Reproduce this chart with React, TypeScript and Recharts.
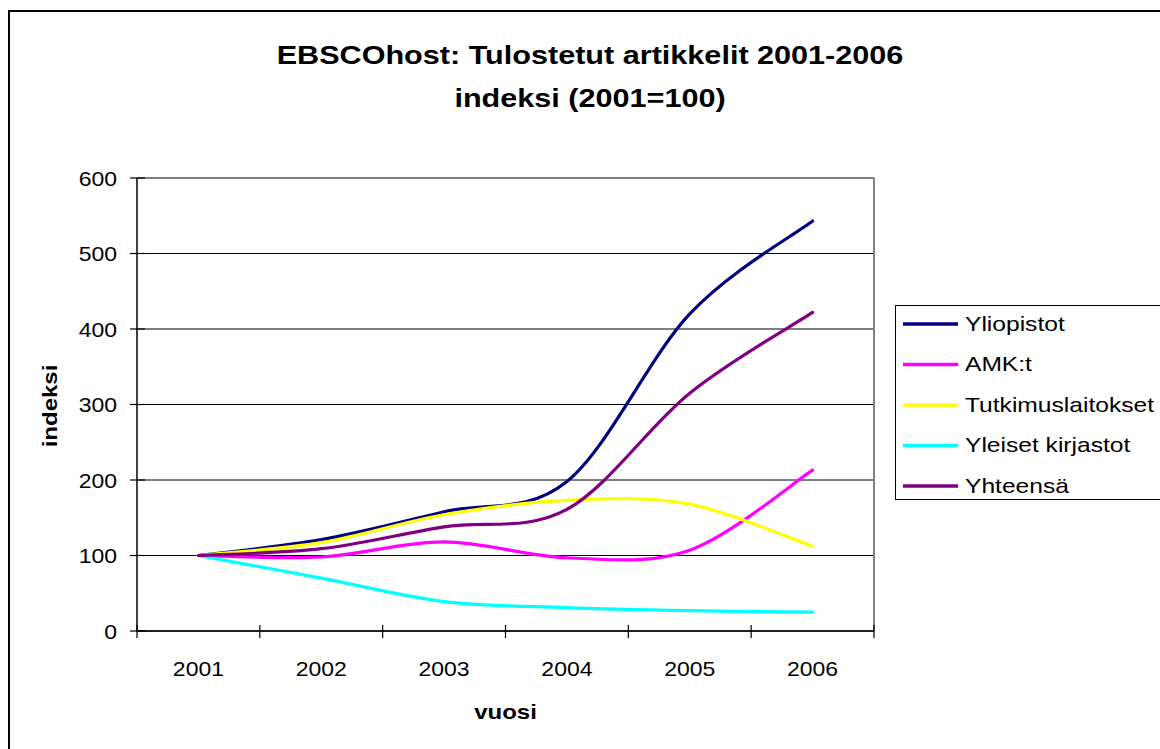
import React from 'react';
import {
  LineChart,
  Line,
  XAxis,
  YAxis,
  CartesianGrid,
  ReferenceLine,
  Legend,
} from 'recharts';

// values (index, 2001 = 100)
const CATEGORIES = [2001, 2002, 2003, 2004, 2005, 2006];
const YLIOPISTOT = [100, 121, 158, 198, 420, 543];
const AMK = [100, 98, 118, 97, 107, 213];
const TUTKIMUSLAITOKSET = [100, 117, 154, 173, 168, 112];
const YLEISET_KIRJASTOT = [100, 70, 39, 31, 27, 25];
const YHTEENSA = [100, 109, 138, 161, 315, 422];
const Y_TICKS = [0, 100, 200, 300, 400, 500, 600];

const SERIES = [
  { name: 'Yliopistot', values: YLIOPISTOT, color: '#000080' },
  { name: 'AMK:t', values: AMK, color: '#FF00FF' },
  { name: 'Tutkimuslaitokset', values: TUTKIMUSLAITOKSET, color: '#FFFF00' },
  { name: 'Yleiset kirjastot', values: YLEISET_KIRJASTOT, color: '#00FFFF' },
  { name: 'Yhteensä', values: YHTEENSA, color: '#800080' },
];

const data = CATEGORIES.map((year, i) => {
  const row: Record<string, number> = { year };
  SERIES.forEach(s => { row[s.name] = s.values[i]; });
  return row;
});

// category boundaries, Excel puts tick marks between the years
const X_BOUNDS = [...CATEGORIES.map(c => c - 0.5), CATEGORIES[CATEGORIES.length - 1] + 0.5];

const W = 1160;
const H = 749;
const MARGIN = { top: 178, right: 286, bottom: 78, left: 57 };
const Y_AXIS_W = 80;
const PLOT_W = W - MARGIN.left - MARGIN.right - Y_AXIS_W;
const BAND = PLOT_W / CATEGORIES.length;
const FONT = '"Liberation Sans", Arial, sans-serif';

// Excel-style smoothed line (Catmull-Rom through the points)
const excelSmooth = (context: any) => {
  let pts: [number, number][] = [];
  return {
    areaStart() {},
    areaEnd() {},
    lineStart() { pts = []; },
    point(x: number, y: number) { pts.push([+x, +y]); },
    lineEnd() {
      if (!pts.length) return;
      context.moveTo(pts[0][0], pts[0][1]);
      for (let i = 0; i < pts.length - 1; i++) {
        const p0 = pts[Math.max(i - 1, 0)];
        const p1 = pts[i];
        const p2 = pts[i + 1];
        const p3 = pts[Math.min(i + 2, pts.length - 1)];
        context.bezierCurveTo(
          p1[0] + (p2[0] - p0[0]) / 6, p1[1] + (p2[1] - p0[1]) / 6,
          p2[0] - (p3[0] - p1[0]) / 6, p2[1] - (p3[1] - p1[1]) / 6,
          p2[0], p2[1]
        );
      }
    },
  };
};

// the source picture is stretched sideways, so text is widened a bit
function SText({ x, y, size, bold, anchor = 'middle', sx = 1.2, rotate, children }: any) {
  const t = `translate(${x},${y})${rotate ? ` rotate(${rotate})` : ''} scale(${sx},1)`;
  return (
    <text
      transform={t}
      textAnchor={anchor}
      fontSize={size}
      fontWeight={bold ? 700 : 400}
      fontFamily={FONT}
      fill="#000"
    >
      {children}
    </text>
  );
}

const XTick = ({ x, y, index }: any) => (
  <g>
    <line x1={x} x2={x} y1={y - 13} y2={y} stroke="#000" strokeWidth={1.2} />
    {index < CATEGORIES.length ? (
      <SText x={x + BAND / 2} y={y + 37.7} size={20} sx={1.15}>{CATEGORIES[index]}</SText>
    ) : null}
  </g>
);

const YTick = ({ x, y, payload }: any) => (
  <g>
    <line x1={x + 13} x2={x + 28} y1={y} y2={y} stroke="#000" strokeWidth={1.2} />
    <SText x={x} y={y + 7.5} size={20} sx={1.15} anchor="end">{payload.value}</SText>
  </g>
);

const LegendBox = () => (
  <svg width={300} height={195} style={{ display: 'block', overflow: 'visible' }}>
    <rect x={0.5} y={0.5} width={299} height={194} fill="#fff" stroke="#000" strokeWidth={1} />
    {SERIES.map((s, i) => {
      const cy = 19 + i * 40.5;
      return (
        <g key={s.name}>
          <line x1={8} x2={63} y1={cy} y2={cy} stroke={s.color} strokeWidth={3.5} />
          <SText x={70} y={cy + 6.6} size={20.5} anchor="start">{s.name}</SText>
        </g>
      );
    })}
  </svg>
);

export default function App() {
  return (
    <div style={{ position: 'absolute', left: 0, top: 0, width: W, height: H, overflow: 'hidden', background: '#fff' }}>
      <div
        style={{
          position: 'absolute',
          left: 8,
          top: 10,
          width: 1300,
          height: 900,
          borderLeft: '2px solid #000',
          borderTop: '2px solid #000',
        }}
      />
      <div style={{ position: 'absolute', left: 0, top: 0 }}>
        <LineChart width={W} height={H} data={data} margin={MARGIN}>
          <CartesianGrid vertical={false} stroke="#000" strokeWidth={1} />
          <XAxis
            dataKey="year"
            type="number"
            domain={[X_BOUNDS[0], X_BOUNDS[X_BOUNDS.length - 1]]}
            ticks={X_BOUNDS}
            interval={0}
            height={40}
            tickSize={7}
            tickMargin={0}
            tickLine={false}
            axisLine={{ stroke: '#000', strokeWidth: 1.5 }}
            tick={<XTick />}
          />
          <YAxis
            type="number"
            domain={[0, 600]}
            ticks={Y_TICKS}
            interval={0}
            width={Y_AXIS_W}
            tickSize={7}
            tickMargin={13}
            tickLine={false}
            axisLine={{ stroke: '#000', strokeWidth: 1.5 }}
            tick={<YTick />}
          />
          <ReferenceLine y={600} stroke="#808080" strokeWidth={2} />
          <ReferenceLine x={X_BOUNDS[X_BOUNDS.length - 1]} stroke="#808080" strokeWidth={2} />
          {SERIES.map(s => (
            <Line
              key={s.name}
              dataKey={s.name}
              name={s.name}
              type={excelSmooth as any}
              stroke={s.color}
              strokeWidth={3.2}
              strokeLinecap="round"
              dot={false}
              activeDot={false}
              isAnimationActive={false}
            />
          ))}
          <Legend
            layout="horizontal"
            verticalAlign="middle"
            align="center"
            wrapperStyle={{ left: 895, top: 305, width: 300, height: 195 }}
            content={() => <LegendBox />}
          />
        </LineChart>
      </div>
      <svg width={W} height={H} style={{ position: 'absolute', left: 0, top: 0, pointerEvents: 'none' }}>
        <SText x={590} y={63.5} size={25.5} bold>EBSCOhost: Tulostetut artikkelit 2001-2006</SText>
        <SText x={590} y={107} size={25.5} bold>indeksi (2001=100)</SText>
        <SText x={56.5} y={406} size={20} bold rotate={-90}>indeksi</SText>
        <SText x={505.5} y={719} size={20} bold>vuosi</SText>
      </svg>
    </div>
  );
}
